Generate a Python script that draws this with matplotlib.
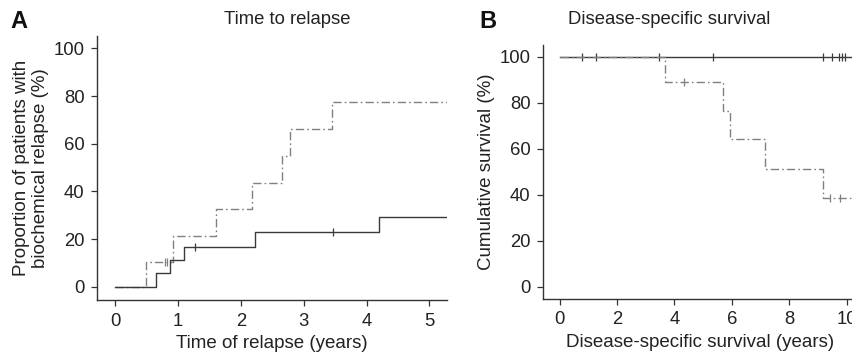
import matplotlib
matplotlib.use("Agg")
import matplotlib.pyplot as plt

plt.rcParams['font.family'] = ['Liberation Sans', 'DejaVu Sans']

# ---- Panel A data: time to relapse ----
a_solid_t = [0, 0.65, 0.875, 1.09, 2.22, 4.20, 5.30]
a_solid_v = [0, 5.6, 11.3, 16.8, 22.8, 29.1, 29.1]
a_solid_cens_t = [1.27, 3.47]
a_solid_cens_v = [16.8, 22.8]

a_dash_t = [0, 0.49, 0.92, 1.60, 2.18, 2.66, 2.78, 3.45, 5.30]
a_dash_v = [0, 10.3, 21.3, 32.6, 43.7, 54.8, 66.1, 77.4, 77.4]
a_dash_cens_t = [0.79, 0.83]
a_dash_cens_v = [10.3, 10.3]

# ---- Panel B data: disease-specific survival ----
b_solid_t = [0, 10.4]
b_solid_v = [100, 100]
b_solid_cens_t = [0.79, 1.26, 3.47, 5.34, 9.17, 9.51, 9.73, 9.83, 9.93]
b_solid_cens_v = [100] * 9

b_dash_t = [0, 3.67, 5.69, 5.94, 7.17, 9.18, 10.4]
b_dash_v = [100, 88.9, 76.4, 64.1, 51.2, 38.4, 38.4]
b_dash_cens_t = [4.35, 9.44, 9.79]
b_dash_cens_v = [88.9, 38.4, 38.4]

a_xticks = [0, 1, 2, 3, 4, 5]
b_xticks = [0, 2, 4, 6, 8, 10]
yticks = [0, 20, 40, 60, 80, 100]

W, H = 852, 356
fig = plt.figure(figsize=(W / 100, H / 100), dpi=100)

def px_ax(l, t, r, b):
    return fig.add_axes([l / W, 1 - b / H, (r - l) / W, (b - t) / H])

axA = px_ax(97, 36, 447, 300)
axB = px_ax(543, 45, 858, 299)

solid_c = '#3a3a3a'
dash_c = '#808080'
dash_style = (0, (6, 2.2, 1.2, 2.2))

def style(ax):
    for s in ['top', 'right']:
        ax.spines[s].set_visible(False)
    for s in ['left', 'bottom']:
        ax.spines[s].set_color('#333333')
        ax.spines[s].set_linewidth(1.0)
    ax.tick_params(direction='out', length=4, width=0.9, colors='#333333',
                   labelsize=13.3, labelcolor='#222222', pad=5)

# Panel A
axA.step(a_dash_t, a_dash_v, where='post', color=dash_c, lw=1.0, ls=dash_style)
axA.plot(a_dash_cens_t, a_dash_cens_v, ls='none', marker='|', ms=6, mew=0.9, color=dash_c)
axA.step(a_solid_t, a_solid_v, where='post', color=solid_c, lw=1.0)
axA.plot(a_solid_cens_t, a_solid_cens_v, ls='none', marker='|', ms=6, mew=0.9, color=solid_c)
axA.set_xlim(-0.29, 5.28)
axA.set_ylim(-5.6, 105.2)
axA.set_xticks(a_xticks)
axA.set_yticks(yticks)
style(axA)
axA.set_xlabel('Time of relapse (years)', fontsize=13.5, color='#222222', labelpad=4)
axA.set_ylabel('Proportion of patients with\nbiochemical relapse (%)', fontsize=13.5,
               color='#222222', labelpad=3, linespacing=1.15)

# Panel B
axB.step(b_solid_t, b_solid_v, where='post', color=solid_c, lw=1.0)
axB.plot(b_solid_cens_t, b_solid_cens_v, ls='none', marker='|', ms=6, mew=0.9, color=solid_c)
axB.step(b_dash_t, b_dash_v, where='post', color=dash_c, lw=1.0, ls=dash_style)
axB.plot(b_dash_cens_t, b_dash_cens_v, ls='none', marker='|', ms=6, mew=0.9, color=dash_c)
axB.set_xlim(-0.58, 10.4)
axB.set_ylim(-5.3, 105.1)
axB.set_xticks(b_xticks)
axB.set_yticks(yticks)
style(axB)
axB.set_xlabel('Disease-specific survival (years)', fontsize=13.5, color='#222222', labelpad=4)
axB.set_ylabel('Cumulative survival (%)', fontsize=13.5, color='#222222', labelpad=3)

# Titles and panel letters
fig.text(287 / W, 1 - 20 / H, 'Time to relapse', ha='center', va='center', fontsize=13.3, color='#222222')
fig.text(669 / W, 1 - 20 / H, 'Disease-specific survival', ha='center', va='center', fontsize=13.3, color='#222222')
fig.text(10 / W, 1 - 21 / H, 'A', ha='left', va='center', fontsize=17, fontweight='bold', color='#111111')
fig.text(479 / W, 1 - 21 / H, 'B', ha='left', va='center', fontsize=17, fontweight='bold', color='#111111')

fig.savefig('out.png', dpi=100)
